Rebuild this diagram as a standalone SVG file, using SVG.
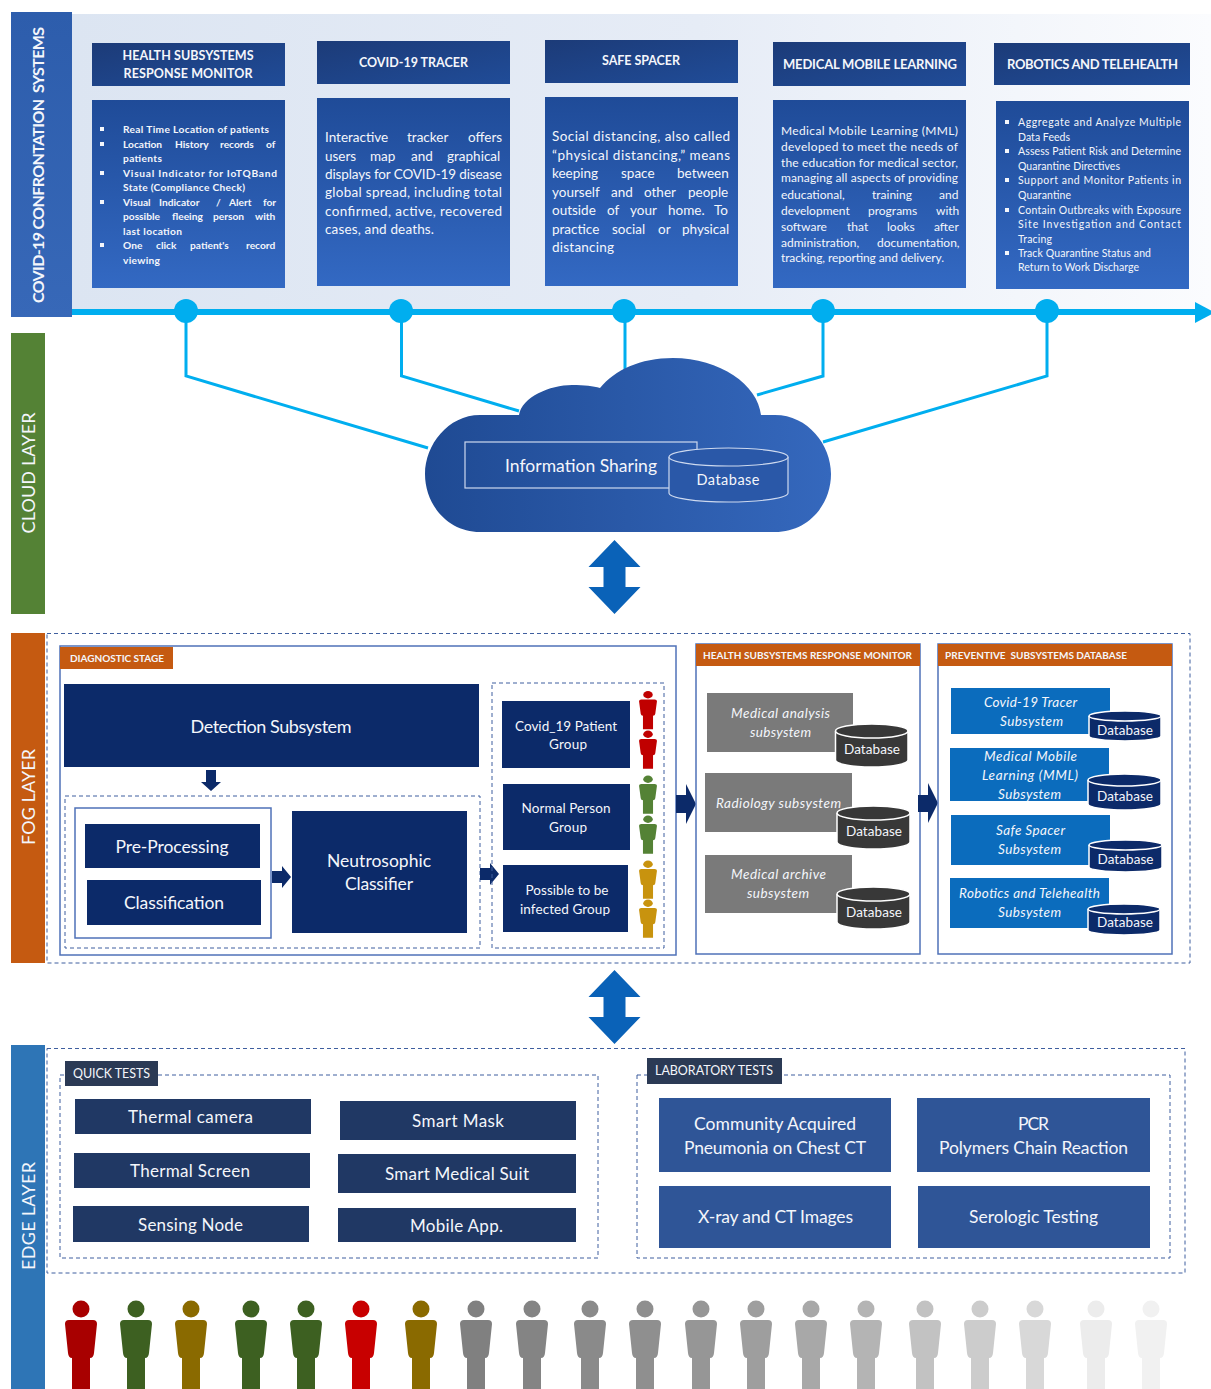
<svg xmlns="http://www.w3.org/2000/svg" xmlns:xlink="http://www.w3.org/1999/xlink" width="1211" height="1389" viewBox="0 0 1211 1389">
<style>
text{font-family:Lato,"Liberation Sans",sans-serif;fill:#f4f6fb;dominant-baseline:central;white-space:pre}
text:not([transform]){transform:translateY(-.4px)}
.m{text-anchor:middle}
.b{font-weight:700}
.i{font-style:italic}
.hd{fill:url(#gh)}
.ct{fill:url(#gc)}
.navy{fill:#0c2a69}
.quick{fill:#203864}
.lab{fill:#2f5597}
.grey{fill:#7a7a7a}
.blue{fill:#0b6cbd}
.org{fill:#c55a11}
.dash{fill:none;stroke:#3f5f9f;stroke-width:1;stroke-dasharray:4 3}
.solid{fill:#fff;stroke:#4f72b8;stroke-width:1.500}
.cd{fill:#383838;stroke:#fff;stroke-width:1.500}
.cb{fill:#0c2a69;stroke:#fff;stroke-width:1.500}
.cc{fill:#2a58a8;stroke:#cdd9ef;stroke-width:1.200}
.ln{fill:none;stroke:#00aeef;stroke-width:3}
.dot{fill:#00aeef}
.dbl{fill:#0a62b8}
.ar{fill:#0c2a69}
</style>
<defs>
<linearGradient id="gp" x1="0" x2="1" y1="0" y2="0"><stop offset="0" stop-color="#dce5f2"/><stop offset=".55" stop-color="#e6ecf6"/><stop offset="1" stop-color="#fbfcfe"/></linearGradient>
<linearGradient id="gh" x1="0" x2="1" y1="0" y2="1"><stop offset="0" stop-color="#1c3b78"/><stop offset="1" stop-color="#204c98"/></linearGradient>
<linearGradient id="gc" x1="0" x2="0" y1="0" y2="1"><stop offset="0" stop-color="#1f4b98"/><stop offset="1" stop-color="#3369c3"/></linearGradient>
<linearGradient id="gl" x1="0" x2="0" y1="0" y2="1"><stop offset="0" stop-color="#2d5dac"/><stop offset="1" stop-color="#3768b8"/></linearGradient>
<linearGradient id="gk" x1="0" x2="1" y1="0" y2="0"><stop offset="0" stop-color="#1f4a93"/><stop offset="1" stop-color="#3568bd"/></linearGradient>
<g id="person"><circle cx="0" cy="-11" r="8.500"/><path d="M-12 0H12Q16 0 16 4L13 33Q12.500 38 9 38V69H-9V38Q-12.500 38-13 33L-16 4Q-16 0-12 0Z"/></g>
<path id="dblarrow" d="M0 0L26 27H11V47H26L0 74L-26 47H-11V27H-26Z"/>
</defs>
<rect width="1211" height="1389" fill="#fff"/>

<g id="systems-panel">
<rect x="72" y="14" width="1139" height="298" fill="url(#gp)"/>
<rect x="11" y="12" width="61" height="305" fill="url(#gl)"/>
<text class="m b" transform="translate(37.500 165) rotate(-90)" font-size="16" textLength="276">COVID-19 CONFRONTATION  SYSTEMS</text>
</g>

<g id="connectors">
<path class="ln" d="M186 312V376L428 448"/>
<path class="ln" d="M401.500 312V376L519 411"/>
<path class="ln" d="M625 312V372"/>
<path class="ln" d="M823 312V376L757 395"/>
<path class="ln" d="M1047 312V376L823 442"/>
<rect class="dot" x="72" y="309" width="1125" height="6"/>
<path class="dot" d="M1195 302L1215 312.500L1195 323Z"/>
<circle class="dot" cx="186" cy="311" r="12"/>
<circle class="dot" cx="401" cy="311" r="12"/>
<circle class="dot" cx="624" cy="311" r="12"/>
<circle class="dot" cx="823" cy="311" r="12"/>
<circle class="dot" cx="1047" cy="311" r="12"/>
<use href="#dblarrow" class="dbl" x="614.500" y="540"/>
<use href="#dblarrow" class="dbl" x="614.500" y="970"/>
</g>

<g id="health-monitor">
<rect class="hd" x="92" y="43" width="193" height="43"/>
<text class="m b" x="188" y="56" font-size="12.500" textLength="131">HEALTH SUBSYSTEMS</text>
<text class="m b" x="188" y="74" font-size="12.500" textLength="129">RESPONSE MONITOR</text>
<rect class="ct" x="92" y="100" width="193" height="188"/>
<g class="b" font-size="10.200">
<text x="123" y="129" textLength="146">Real Time Location of patients</text>
<text y="144"><tspan x="123">Location</tspan><tspan x="175">History</tspan><tspan x="220">records</tspan><tspan x="266">of</tspan></text>
<text x="123" y="158" textLength="39">patients</text>
<text x="123" y="173" textLength="154">Visual Indicator for IoTQBand</text>
<text x="123" y="187" textLength="122">State (Compliance Check)</text>
<text y="202"><tspan x="123">Visual</tspan><tspan x="159">Indicator</tspan><tspan x="216">/</tspan><tspan x="229">Alert</tspan><tspan x="263">for</tspan></text>
<text y="216"><tspan x="123">possible</tspan><tspan x="172">fleeing</tspan><tspan x="213">person</tspan><tspan x="255">with</tspan></text>
<text x="123" y="231" textLength="59">last location</text>
<text y="245"><tspan x="123">One</tspan><tspan x="156">click</tspan><tspan x="190">patient's</tspan><tspan x="246">record</tspan></text>
<text x="123" y="260" textLength="37">viewing</text>
</g>
<path fill="#f4f6fb" d="M100 127h4v4h-4zM100 142h4v4h-4zM100 171h4v4h-4zM100 200h4v4h-4zM100 243h4v4h-4z"/>
</g>

<g id="covid-tracer">
<rect class="hd" x="317" y="41" width="193" height="43"/>
<text class="m b" x="413.500" y="63" font-size="12.500" textLength="109">COVID-19 TRACER</text>
<rect class="ct" x="317" y="98" width="193" height="188"/>
<g font-size="13.500">
<text y="137"><tspan x="325">Interactive</tspan><tspan x="407">tracker</tspan><tspan x="468">offers</tspan></text>
<text y="156"><tspan x="325">users</tspan><tspan x="370">map</tspan><tspan x="411">and</tspan><tspan x="447">graphical</tspan></text>
<text x="325" y="174" textLength="177">displays for COVID-19 disease</text>
<text x="325" y="192" textLength="177">global spread, including total</text>
<text x="325" y="211" textLength="177">confirmed, active, recovered</text>
<text x="325" y="229" textLength="109">cases, and deaths.</text>
</g>
</g>

<g id="safe-spacer">
<rect class="hd" x="545" y="40" width="193" height="43"/>
<text class="m b" x="641" y="61" font-size="12.500" textLength="78">SAFE SPACER</text>
<rect class="ct" x="545" y="97" width="193" height="189"/>
<g font-size="13.500">
<text x="552" y="136" textLength="178">Social distancing, also called</text>
<text x="552" y="155" textLength="178">“physical distancing,” means</text>
<text y="173"><tspan x="552">keeping</tspan><tspan x="621">space</tspan><tspan x="677">between</tspan></text>
<text y="192"><tspan x="552">yourself</tspan><tspan x="611">and</tspan><tspan x="644">other</tspan><tspan x="688">people</tspan></text>
<text y="210"><tspan x="552">outside</tspan><tspan x="607">of</tspan><tspan x="630">your</tspan><tspan x="668">home.</tspan><tspan x="714">To</tspan></text>
<text y="229"><tspan x="552">practice</tspan><tspan x="612">social</tspan><tspan x="658">or</tspan><tspan x="682">physical</tspan></text>
<text x="552" y="247" textLength="62">distancing</text>
</g>
</g>

<g id="medical-learning">
<rect class="hd" x="773" y="42" width="193" height="44"/>
<text class="m b" x="870" y="64" font-size="13" textLength="174">MEDICAL MOBILE LEARNING</text>
<rect class="ct" x="773" y="100" width="193" height="188"/>
<g font-size="12">
<text x="781" y="131" textLength="177">Medical Mobile Learning (MML)</text>
<text x="781" y="147" textLength="177">developed to meet the needs of</text>
<text x="781" y="163" textLength="177">the education for medical sector,</text>
<text x="781" y="178" textLength="177">managing all aspects of providing</text>
<text y="194"><tspan x="781">educational,</tspan><tspan x="872">training</tspan><tspan x="939">and</tspan></text>
<text y="210"><tspan x="781">development</tspan><tspan x="868">programs</tspan><tspan x="936">with</tspan></text>
<text y="226"><tspan x="781">software</tspan><tspan x="847">that</tspan><tspan x="887">looks</tspan><tspan x="934">after</tspan></text>
<text y="242"><tspan x="781">administration,</tspan><tspan x="877">documentation,</tspan></text>
<text x="781" y="258" textLength="163">tracking, reporting and delivery.</text>
</g>
</g>

<g id="robotics">
<rect class="hd" x="994" y="43" width="196" height="42"/>
<text class="m b" x="1092.500" y="64" font-size="13" textLength="171">ROBOTICS AND TELEHEALTH</text>
<rect class="ct" x="996" y="101" width="193" height="188"/>
<g font-size="10.500">
<text x="1018" y="122" textLength="163">Aggregate and Analyze Multiple</text>
<text x="1018" y="137" textLength="52">Data Feeds</text>
<text x="1018" y="151" textLength="163">Assess Patient Risk and Determine</text>
<text x="1018" y="166" textLength="102">Quarantine Directives</text>
<text x="1018" y="180" textLength="163">Support and Monitor Patients in</text>
<text x="1018" y="195" textLength="53">Quarantine</text>
<text x="1018" y="210" textLength="163">Contain Outbreaks with Exposure</text>
<text x="1018" y="224" textLength="163">Site Investigation and Contact</text>
<text x="1018" y="239" textLength="34">Tracing</text>
<text x="1018" y="253" textLength="133">Track Quarantine Status and</text>
<text x="1018" y="267" textLength="121">Return to Work Discharge</text>
</g>
<path fill="#f4f6fb" d="M1005 120h4v4h-4zM1005 149h4v4h-4zM1005 178h4v4h-4zM1005 208h4v4h-4zM1005 251h4v4h-4z"/>
</g>

<g id="cloud-layer">
<rect x="11" y="333" width="34" height="281" fill="#548235"/>
<text class="m" transform="translate(27.500 473) rotate(-90)" font-size="18" textLength="121">CLOUD LAYER</text>
<path fill="url(#gk)" d="M519 415C522 397 550 385 572 385C585 385 593 386 600 388C615 370 640 358 673 358C720 358 758 385 761 415H775C808 415 831 445 831 474C831 505 808 532 775 532H480C448 532 425 505 425 474C425 445 448 415 480 415Z"/>
<rect x="465" y="442" width="232" height="46" fill="none" stroke="#cdd9ef" stroke-width="1.200"/>
<text class="m" x="581" y="466" font-size="17.500" textLength="152">Information Sharing</text>
<path class="cc" d="M669 457A59.500 9 0 0 1 788 457V493A59.500 9 0 0 1 669 493Z"/>
<path class="cc" fill="none" d="M669 457A59.500 9 0 0 0 788 457"/>
<text class="m" x="728" y="480" font-size="14.500" textLength="63">Database</text>
</g>

<g id="fog-layer">
<rect x="11" y="633" width="34" height="330" fill="#c55a11"/>
<text class="m" transform="translate(27.500 797) rotate(-90)" font-size="18" textLength="96">FOG LAYER</text>
<rect class="dash" x="47" y="633.500" width="1143" height="329.500"/>
</g>

<g id="diagnostic-stage">
<rect class="solid" x="60" y="646" width="616" height="309"/>
<rect class="org" x="60" y="647" width="113" height="22"/>
<text class="m b" x="117" y="658" font-size="10" textLength="94">DIAGNOSTIC STAGE</text>
</g>
<g id="detection"><rect class="navy" x="64" y="684" width="415" height="83"/><text class="m" x="271" y="726" font-size="18" textLength="161">Detection Subsystem</text></g>
<path id="arrow-down" class="ar" d="M206 770H216V782H221L211 791L201 782H206Z"/>
<rect class="dash" x="65" y="796" width="415" height="152"/>
<rect class="solid" x="75" y="808" width="196" height="130"/>
<g id="preprocessing"><rect class="navy" x="85" y="824" width="175" height="44"/><text class="m" x="172" y="847" font-size="17.500" textLength="113">Pre-Processing</text></g>
<g id="classification"><rect class="navy" x="87" y="880" width="174" height="45"/><text class="m" x="174" y="903" font-size="17.500" textLength="100">Classification</text></g>
<path id="arrow-a" class="ar" d="M272 871H282V866L291 877L282 888V883H272Z"/>
<g id="neutrosophic"><rect class="navy" x="292" y="811" width="175" height="122"/><text class="m" x="379" y="861" font-size="17.500" textLength="104">Neutrosophic</text><text class="m" x="379" y="884" font-size="17.500" textLength="68">Classifier</text></g>
<path id="arrow-b" class="ar" d="M480 868H490V863L499 874L490 885V880H480Z"/>
<rect class="dash" x="492" y="683" width="172" height="265"/>
<g id="group-covid"><rect class="navy" x="502" y="701" width="128" height="67"/><text class="m" x="566" y="726" font-size="13.500" textLength="102">Covid_19 Patient</text><text class="m" x="568" y="744" font-size="13.500" textLength="38">Group</text>
<use href="#person" fill="#c00000" transform="translate(648 699.500) scale(.56 .43)"/><use href="#person" fill="#c00000" transform="translate(648 739) scale(.56 .43)"/></g>
<g id="group-normal"><rect class="navy" x="503" y="784" width="127" height="66"/><text class="m" x="566" y="808" font-size="13.500" textLength="89">Normal Person</text><text class="m" x="568" y="827" font-size="13.500" textLength="38">Group</text>
<use href="#person" fill="#548235" transform="translate(648 784) scale(.56 .43)"/><use href="#person" fill="#548235" transform="translate(648 824) scale(.56 .43)"/></g>
<g id="group-possible"><rect class="navy" x="503" y="865" width="125" height="67"/><text class="m" x="567" y="890" font-size="13.500" textLength="83">Possible to be</text><text class="m" x="565" y="909" font-size="13.500" textLength="90">infected Group</text>
<use href="#person" fill="#c8930e" transform="translate(648 869) scale(.56 .43)"/><use href="#person" fill="#c8930e" transform="translate(648 908) scale(.56 .43)"/></g>
<path id="arrow-c" class="ar" d="M676 795H686V784L696 804L686 824V813H676Z"/>

<g id="health-db">
<rect class="solid" x="696" y="644" width="224" height="310"/>
<rect class="org" x="696" y="644" width="224" height="22"/>
<text class="m b" x="807.500" y="655" font-size="10" textLength="209">HEALTH SUBSYSTEMS RESPONSE MONITOR</text>
</g>
<g id="medical-analysis"><rect class="grey" x="707" y="693" width="146" height="59"/><text class="m i" x="780.500" y="713" font-size="13.500" textLength="99">Medical analysis</text><text class="m i" x="780.500" y="732" font-size="13.500" textLength="61">subsystem</text>
<path class="cd" d="M835.500 731A36.250 7 0 0 1 908 731V760A36.250 7 0 0 1 835.500 760Z"/><path class="cd" fill="none" d="M835.500 731A36.250 7 0 0 0 908 731"/><text class="m" x="872" y="749" font-size="13.500" textLength="56">Database</text></g>
<g id="radiology"><rect class="grey" x="705" y="773" width="147" height="59"/><text class="m i" x="778.500" y="803" font-size="13.500" textLength="125">Radiology subsystem</text>
<path class="cd" d="M837 813A36.500 7 0 0 1 910 813V842A36.500 7 0 0 1 837 842Z"/><path class="cd" fill="none" d="M837 813A36.500 7 0 0 0 910 813"/><text class="m" x="874" y="831" font-size="13.500" textLength="56">Database</text></g>
<g id="medical-archive"><rect class="grey" x="705" y="855" width="147" height="58"/><text class="m i" x="778.500" y="874" font-size="13.500" textLength="95">Medical archive</text><text class="m i" x="778" y="893" font-size="13.500" textLength="62">subsystem</text>
<path class="cd" d="M837 894A36.500 7 0 0 1 910 894V922A36.500 7 0 0 1 837 922Z"/><path class="cd" fill="none" d="M837 894A36.500 7 0 0 0 910 894"/><text class="m" x="874" y="912" font-size="13.500" textLength="56">Database</text></g>
<path id="arrow-d" class="ar" d="M918 795H928V783L938 803L928 823V812H918Z"/>

<g id="preventive-db">
<rect class="solid" x="938" y="644" width="234" height="310"/>
<rect class="org" x="938" y="644" width="234" height="22"/>
<text class="b" x="945" y="655" font-size="10" textLength="182">PREVENTIVE  SUBSYSTEMS DATABASE</text>
</g>
<g id="tracer-sub"><rect class="blue" x="951" y="688" width="159" height="46"/><text class="m i" x="1030.500" y="702" font-size="13.500" textLength="93">Covid-19 Tracer</text><text class="m i" x="1031.500" y="721" font-size="13.500" textLength="63">Subsystem</text>
<path class="cb" d="M1089 716A36 5 0 0 1 1161 716V736A36 5 0 0 1 1089 736Z"/><path class="cb" fill="none" d="M1089 716A36 5 0 0 0 1161 716"/><text class="m" x="1125" y="730" font-size="13.500" textLength="56">Database</text></g>
<g id="mml-sub"><rect class="blue" x="950" y="748" width="159" height="53"/><text class="m i" x="1030.500" y="756" font-size="13.500" textLength="93">Medical Mobile</text><text class="m i" x="1030" y="775" font-size="13.500" textLength="96">Learning (MML)</text><text class="m i" x="1029.500" y="794" font-size="13.500" textLength="63">Subsystem</text>
<path class="cb" d="M1088 780A36.500 6 0 0 1 1161 780V804A36.500 6 0 0 1 1088 804Z"/><path class="cb" fill="none" d="M1088 780A36.500 6 0 0 0 1161 780"/><text class="m" x="1125" y="796" font-size="13.500" textLength="56">Database</text></g>
<g id="spacer-sub"><rect class="blue" x="951" y="815" width="159" height="50"/><text class="m i" x="1030.500" y="830" font-size="13.500" textLength="69">Safe Spacer</text><text class="m i" x="1029.500" y="849" font-size="13.500" textLength="63">Subsystem</text>
<path class="cb" d="M1089 845A36.500 5 0 0 1 1162 845V867A36.500 5 0 0 1 1089 867Z"/><path class="cb" fill="none" d="M1089 845A36.500 5 0 0 0 1162 845"/><text class="m" x="1125.500" y="859" font-size="13.500" textLength="56">Database</text></g>
<g id="robotics-sub"><rect class="blue" x="950" y="878" width="159" height="50"/><text class="m i" x="1029.500" y="893" font-size="13.500" textLength="141">Robotics and Telehealth</text><text class="m i" x="1029.500" y="912" font-size="13.500" textLength="63">Subsystem</text>
<path class="cb" d="M1088 909A36 5 0 0 1 1160 909V930A36 5 0 0 1 1088 930Z"/><path class="cb" fill="none" d="M1088 909A36 5 0 0 0 1160 909"/><text class="m" x="1125" y="922" font-size="13.500" textLength="56">Database</text></g>

<g id="edge-layer">
<rect x="11" y="1045" width="34" height="344" fill="#2e75b6"/>
<text class="m" transform="translate(27.500 1216) rotate(-90)" font-size="18" textLength="108">EDGE LAYER</text>
<rect class="dash" x="47" y="1048.500" width="1138" height="224.500"/>
</g>

<g id="quick-tests">
<rect class="dash" x="60" y="1075" width="538" height="183"/>
<rect x="65" y="1061" width="93" height="25" fill="#2b3a55"/>
<text class="m" x="111.500" y="1074" font-size="12.500" textLength="77">QUICK TESTS</text>
</g>
<g id="thermal-camera"><rect class="quick" x="75" y="1099" width="236" height="35"/><text class="m" x="190.500" y="1117" font-size="17" textLength="125">Thermal camera</text></g>
<g id="smart-mask"><rect class="quick" x="340" y="1101" width="236" height="39"/><text class="m" x="458" y="1121" font-size="17" textLength="92">Smart Mask</text></g>
<g id="thermal-screen"><rect class="quick" x="74" y="1153" width="236" height="35"/><text class="m" x="190" y="1171" font-size="17" textLength="120">Thermal Screen</text></g>
<g id="smart-suit"><rect class="quick" x="338" y="1154" width="238" height="39"/><text class="m" x="457" y="1174" font-size="17" textLength="144">Smart Medical Suit</text></g>
<g id="sensing-node"><rect class="quick" x="73" y="1206" width="236" height="36"/><text class="m" x="190.500" y="1225" font-size="17" textLength="105">Sensing Node</text></g>
<g id="mobile-app"><rect class="quick" x="338" y="1208" width="238" height="34"/><text class="m" x="456.500" y="1226" font-size="17" textLength="93">Mobile App.</text></g>

<g id="laboratory-tests">
<rect class="dash" x="637" y="1075" width="533" height="183"/>
<rect x="647" y="1058" width="135" height="26" fill="#2b3a55"/>
<text class="m" x="714" y="1071" font-size="12.500" textLength="118">LABORATORY TESTS</text>
</g>
<g id="chest-ct"><rect class="lab" x="659" y="1098" width="232" height="74"/><text class="m" x="775" y="1124" font-size="17.500" textLength="162">Community Acquired</text><text class="m" x="775" y="1148" font-size="17.500" textLength="182">Pneumonia on Chest CT</text></g>
<g id="pcr"><rect class="lab" x="917" y="1098" width="233" height="74"/><text class="m" x="1033.500" y="1124" font-size="17.500" textLength="31">PCR</text><text class="m" x="1033.500" y="1148" font-size="17.500" textLength="189">Polymers Chain Reaction</text></g>
<g id="xray"><rect class="lab" x="659" y="1186" width="232" height="62"/><text class="m" x="775.500" y="1217" font-size="17.500" textLength="155">X-ray and CT Images</text></g>
<g id="serologic"><rect class="lab" x="918" y="1186" width="232" height="62"/><text class="m" x="1033.500" y="1217" font-size="17.500" textLength="129">Serologic Testing</text></g>

<g id="people">
<use href="#person" fill="#a80000" transform="translate(81 1320)"/>
<use href="#person" fill="#3d6021" transform="translate(136 1320)"/>
<use href="#person" fill="#8a6a00" transform="translate(191 1320)"/>
<use href="#person" fill="#3d6021" transform="translate(251 1320)"/>
<use href="#person" fill="#3d6021" transform="translate(306 1320)"/>
<use href="#person" fill="#c80000" transform="translate(361 1320)"/>
<use href="#person" fill="#8a6a00" transform="translate(421 1320)"/>
<use href="#person" fill="#808080" transform="translate(476 1320)"/>
<use href="#person" fill="#848484" transform="translate(532 1320)"/>
<use href="#person" fill="#8a8a8a" transform="translate(590 1320)"/>
<use href="#person" fill="#8f8f8f" transform="translate(645 1320)"/>
<use href="#person" fill="#969696" transform="translate(701 1320)"/>
<use href="#person" fill="#9e9e9e" transform="translate(756 1320)"/>
<use href="#person" fill="#a8a8a8" transform="translate(811 1320)"/>
<use href="#person" fill="#b4b4b4" transform="translate(866 1320)"/>
<use href="#person" fill="#c2c2c2" transform="translate(925 1320)"/>
<use href="#person" fill="#cccccc" transform="translate(980 1320)"/>
<use href="#person" fill="#d8d8d8" transform="translate(1035 1320)"/>
<use href="#person" fill="#ececec" transform="translate(1096 1320)"/>
<use href="#person" fill="#f1f1f1" transform="translate(1151 1320)"/>
</g>
</svg>
